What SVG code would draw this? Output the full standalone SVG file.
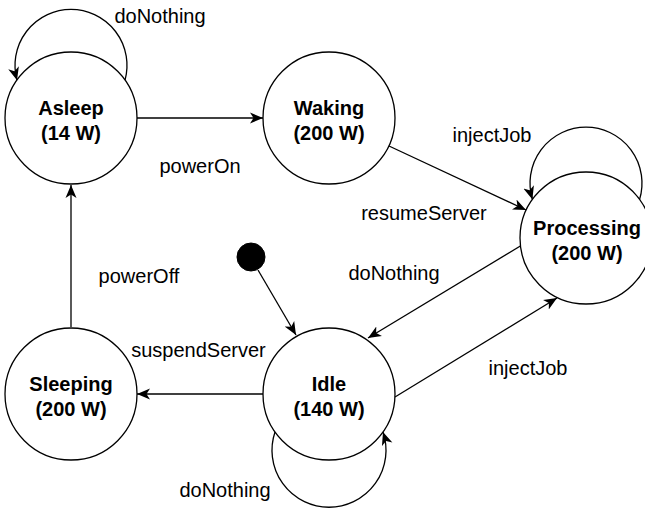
<svg xmlns="http://www.w3.org/2000/svg" width="645" height="511" viewBox="0 0 645 511">
<style>
.state{fill:#fff;stroke:#000;stroke-width:1.3}
.nt{font-family:"Liberation Sans",Arial,sans-serif;font-size:20px;font-weight:bold;text-anchor:middle;fill:#000}
.lbl{font-family:"Liberation Sans",Arial,sans-serif;font-size:20px;text-anchor:middle;fill:#000}
.e{fill:none;stroke:#000;stroke-width:1.3;marker-end:url(#arr)}
</style>
<defs>
<marker id="arr" markerUnits="userSpaceOnUse" markerWidth="14" markerHeight="12" viewBox="0 0 14 12" refX="13" refY="6" orient="auto">
<path d="M0,0.5 L13,6 L0,11.5 L3.5,6 Z" fill="#000"/>
</marker>
</defs>
<g id="connectors">
<path class="e" d="M125,80.3 A56,56 0 1 0 17,80.3"/>
<path class="e" d="M639.6,199.4 A56,56 0 1 0 532.4,199.4"/>
<path class="e" d="M275,432 A57,57 0 1 0 383,432"/>
<path class="e" d="M137,118 L263,118"/>
<path class="e" d="M389,146 L526,210"/>
<path class="e" d="M522,245 L368,338"/>
<path class="e" d="M395,397 L557,298"/>
<path class="e" d="M263,394 L137,394"/>
<path class="e" d="M71,327 L71,185"/>
<path class="e" d="M258,270 L296,335"/>
</g>
<g id="labels">
<text class="lbl" x="160" y="23">doNothing</text>
<text class="lbl" x="200" y="173">powerOn</text>
<text class="lbl" x="492" y="142">injectJob</text>
<text class="lbl" x="424" y="220">resumeServer</text>
<text class="lbl" x="394" y="280">doNothing</text>
<text class="lbl" x="139" y="283">powerOff</text>
<text class="lbl" x="198.5" y="357">suspendServer</text>
<text class="lbl" x="528" y="375">injectJob</text>
<text class="lbl" x="225" y="497">doNothing</text>
</g>
<g id="asleep">
<circle class="state" cx="71" cy="118" r="66"/>
<text class="nt" x="71" y="115">Asleep</text>
<text class="nt" x="71" y="140">(14 W)</text>
</g>
<g id="waking">
<circle class="state" cx="329" cy="118" r="66"/>
<text class="nt" x="329" y="115">Waking</text>
<text class="nt" x="329" y="140">(200 W)</text>
</g>
<g id="processing">
<circle class="state" cx="586" cy="238" r="66"/>
<text class="nt" x="587" y="235">Processing</text>
<text class="nt" x="587" y="260">(200 W)</text>
</g>
<g id="idle">
<circle class="state" cx="329" cy="394" r="66"/>
<text class="nt" x="329" y="391">Idle</text>
<text class="nt" x="329" y="416">(140 W)</text>
</g>
<g id="sleeping">
<circle class="state" cx="71" cy="394" r="66"/>
<text class="nt" x="71" y="391">Sleeping</text>
<text class="nt" x="71" y="416">(200 W)</text>
</g>
<g id="initial">
<circle cx="251" cy="257" r="14" fill="#000" stroke="#000"/>
</g>
</svg>
